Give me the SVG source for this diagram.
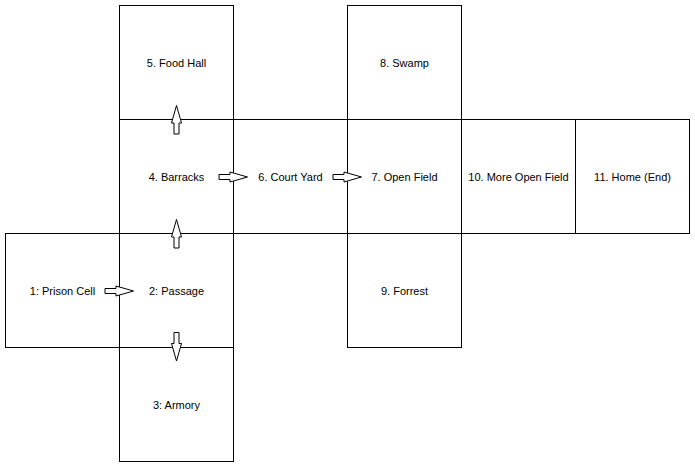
<svg xmlns="http://www.w3.org/2000/svg" width="695" height="467" viewBox="0 0 695 467">
<style>
.cell rect{fill:#fff;stroke:#000;stroke-width:1}
.cell text{font-family:"Liberation Sans",Arial,sans-serif;font-size:11px;fill:#000;text-anchor:middle}
.arr{fill:#fff;stroke:#000;stroke-width:1;stroke-linejoin:miter}
</style>
<rect width="695" height="467" fill="#fff"/>
<g id="n5" class="cell"><rect x="119.5" y="5.5" width="114" height="114"/><text x="176.5" y="66.5">5. Food Hall</text></g>
<g id="n8" class="cell"><rect x="347.5" y="5.5" width="114" height="114"/><text x="404.5" y="66.5">8. Swamp</text></g>
<g id="n4" class="cell"><rect x="119.5" y="119.5" width="114" height="114"/><text x="176.5" y="180.5">4. Barracks</text></g>
<g id="n6" class="cell"><rect x="233.5" y="119.5" width="114" height="114"/><text x="290.5" y="180.5">6. Court Yard</text></g>
<g id="n7" class="cell"><rect x="347.5" y="119.5" width="114" height="114"/><text x="404.5" y="180.5">7. Open Field</text></g>
<g id="n10" class="cell"><rect x="461.5" y="119.5" width="114" height="114"/><text x="518.5" y="180.5">10. More Open Field</text></g>
<g id="n11" class="cell"><rect x="575.5" y="119.5" width="114" height="114"/><text x="632.5" y="180.5">11. Home (End)</text></g>
<g id="n1" class="cell"><rect x="5.5" y="233.5" width="114" height="114"/><text x="62.5" y="294.5">1: Prison Cell</text></g>
<g id="n2" class="cell"><rect x="119.5" y="233.5" width="114" height="114"/><text x="176.5" y="294.5">2: Passage</text></g>
<g id="n9" class="cell"><rect x="347.5" y="233.5" width="114" height="114"/><text x="404.5" y="294.5">9. Forrest</text></g>
<g id="n3" class="cell"><rect x="119.5" y="347.5" width="114" height="114"/><text x="176.5" y="408.5">3: Armory</text></g>
<g id="connectors">
<polygon class="arr" points="105,288.5 116,288.5 116,286 133.5,291 116,296 116,293.5 105,293.5"/>
<polygon class="arr" points="219,174.5 230,174.5 230,172 247.5,177 230,182 230,179.5 219,179.5"/>
<polygon class="arr" points="333,174.5 344,174.5 344,172 361.5,177 344,182 344,179.5 333,179.5"/>
<polygon class="arr" points="174,248 174,237 171.5,237 176.5,219.5 181.5,237 179,237 179,248"/>
<polygon class="arr" points="174,134 174,123 171.5,123 176.5,105.5 181.5,123 179,123 179,134"/>
<polygon class="arr" points="174,332.5 174,343.5 171.5,343.5 176.5,361 181.5,343.5 179,343.5 179,332.5"/>
</g>
</svg>
